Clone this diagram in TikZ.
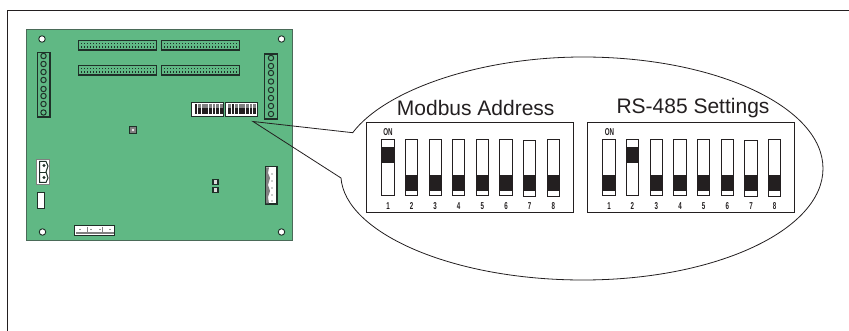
\documentclass[tikz,border=0pt]{standalone}
\usepackage{fontspec}
\setmainfont{Liberation Sans}
\definecolor{boardgreen}{HTML}{60B884}
\definecolor{boardedge}{HTML}{4A6A58}
\definecolor{partdark}{HTML}{1F3028}
\definecolor{inkblack}{HTML}{231F20}
\tikzset{
  part/.style={draw=partdark, line width=1.1pt, inner sep=0pt, outer sep=0pt, minimum width=#1},
  hole/.style={circle, draw=partdark, fill=white, line width=0.9pt, inner sep=0pt, minimum size=6.5pt},
  pin/.style={circle, draw=partdark, line width=1pt, fill=boardgreen, inner sep=0pt, minimum size=5.4pt},
  swbox/.style={draw=inkblack, fill=white, line width=0.9pt, inner sep=0pt, outer sep=0pt, minimum width=12.5pt, minimum height=56.7pt},
  slider/.style={fill=inkblack, inner sep=0pt, outer sep=0pt, minimum width=12.5pt, minimum height=16pt},
  panel/.style={draw=inkblack, fill=white, line width=0.9pt, inner sep=0pt, outer sep=0pt, minimum width=207.2pt, minimum height=90.4pt},
  tiny/.style={text=inkblack, font=\fontsize{10}{11}\selectfont\bfseries, xscale=0.62, inner sep=0pt},
  title/.style={text=inkblack, font=\fontsize{21}{22}\selectfont, inner sep=0pt}
}
\begin{document}
\begin{tikzpicture}[x=1pt, y=-1pt]
    \useasboundingbox (0,0) rectangle (849,331);
    % frame
    \coordinate (fa) at (7.5,331);
    \coordinate (fb) at (7.5,10.5);
    \coordinate (fc) at (849,10.5);
    \draw[inkblack, line width=1.5pt] (fa) -- (fb) -- (fc);

    % board
    \node[draw=boardedge, fill=boardgreen, line width=1pt, inner sep=0pt, minimum width=266pt, minimum height=211.5pt] (board) at (159,135.25) {};
    \node[hole] (ha) at (42,39) {};
    \node[hole] (hb) at (281.5,39) {};
    \node[hole] (hc) at (42.5,232) {};
    \node[hole] (hd) at (281.5,232) {};

    % ribbon headers
    \foreach \name/\hx/\hy in {ra/117.5/45.25, rb/200.25/45.25, rc/117.5/70.25, rd/200.25/70.25}{
      \node[part=78pt, minimum height=9.5pt] (\name) at (\hx,\hy) {};
      \foreach \k in {-12,...,12}{
        \fill[partdark] (\hx+\k*3-0.7,\hy-2.5) rectangle +(1.4,1.6);
        \fill[partdark] (\hx+\k*3-0.7,\hy+0.9) rectangle +(1.4,1.6);
      }
    }

    % terminal blocks
    \node[part=12.5pt, minimum height=64.5pt] (tl) at (43.75,84.75) {};
    \foreach \py in {56,64,72,80,89,96,104,112.5}
      \node[pin] (tl\py) at (43.5,\py) {};
    \node[part=12.5pt, minimum height=65pt] (tr) at (271,86.5) {};
    \foreach \py in {58,66,73,81.5,90,98,106,114}
      \node[pin] (tr\py) at (271,\py) {};

    % small dip switches
    \node[draw=partdark, fill=white, line width=1pt, inner sep=0pt, minimum width=32pt, minimum height=14pt] (da) at (207.5,109.5) {};
    \node[draw=partdark, fill=white, line width=1pt, inner sep=0pt, minimum width=32pt, minimum height=14pt] (db) at (241,109.5) {};
    \foreach \k in {0,...,7}{
      \fill[gray] (194.5+\k*3.6,104.5) rectangle +(2.8,9.5);
      \fill[inkblack] (194.5+\k*3.6,108.5) rectangle +(2.8,5.5);
      \fill[gray] (228+\k*3.6,104.5) rectangle +(2.8,9.5);
      \fill[inkblack] (228+\k*3.6,108.5) rectangle +(2.8,5.5);
    }
    \fill[inkblack] (194.5,104.5) rectangle +(2.8,5);
    \fill[inkblack] (231.6,104.5) rectangle +(2.8,5);

    % small parts
    \node[draw=partdark, fill=gray, line width=1.2pt, inner sep=0pt, minimum size=7pt] (sw) at (133,130) {};
    \node[circle, fill=white!85!gray, inner sep=0pt, minimum size=2.6pt] (swc) at (133,130) {};
    \node[draw=partdark, fill=gray!30, line width=1.6pt, inner sep=0pt, minimum size=5pt] (ja) at (215.5,182) {};
    \node[draw=partdark, fill=gray!30, line width=1.6pt, inner sep=0pt, minimum size=5pt] (jb) at (215.5,190) {};
    \node[draw=partdark, fill=white, line width=1pt, inner sep=0pt, minimum width=7pt, minimum height=16pt] (fuse) at (41,201) {};

    % power connector
    \node[draw=gray, fill=white, line width=1.2pt, inner sep=0pt, minimum width=13pt, minimum height=25pt] (pwr) at (43,172) {};
    \coordinate (pa) at (39.5,161.5);
    \coordinate (pb) at (46,161.5);
    \coordinate (pc) at (48,166);
    \coordinate (pd) at (46,172);
    \coordinate (pe) at (48,178);
    \coordinate (pf) at (46,182.5);
    \coordinate (pg) at (39.5,182.5);
    \draw[partdark, line width=1pt] (pa) -- (pb) -- (pc) -- (pd) -- (pe) -- (pf) -- (pg) -- cycle;
    \draw[partdark] (pg |- pd) -- (pd);
    \node[circle, fill=partdark, inner sep=0pt, minimum size=3.4pt] (pwa) at (44,165.5) {};
    \node[circle, fill=partdark, inner sep=0pt, minimum size=3.4pt] (pwb) at (44,177.5) {};

    % bottom connector
    \node[draw=partdark, fill=white, line width=1.1pt, inner sep=0pt, minimum width=40pt, minimum height=9.5pt] (bc) at (94.5,230.5) {};
    \fill[gray] (75.5,232.5) rectangle (113.5,234.5);
    \foreach \bx in {87,102.5}
      \draw[gray] (\bx,227) -- (\bx,234.5);
    \foreach \bx in {80,91,100,110}
      \fill[partdark] (\bx,229.5) circle (0.6);

    % right connector
    \node[draw=partdark, fill=white, line width=1.3pt, inner sep=0pt, minimum width=11.5pt, minimum height=37.5pt] (rc) at (271.25,185.25) {};
    \fill[gray] (266.2,167.5) -- (269,167.5) -- (268,173) -- (270,178) -- (268,185) -- (270,191) -- (268,197) -- (269,203.5) -- (266.2,203.5) -- cycle;
    \foreach \ry in {174,181,188,195,201}
      \fill[partdark] (272,\ry) circle (0.6);

    % callout
    \coordinate (tip) at (253,121.5);
    \coordinate (ua) at (352.7,132.7);
    \coordinate (la) at (341,178);
    \draw[inkblack, line width=0.8pt] (tip) -- (ua)
      .. controls (385,90) and (480,57) .. (583,57)
      .. controls (715.6,57) and (823,106.9) .. (823,168.5)
      .. controls (823,230.1) and (715.6,280) .. (583,280)
      .. controls (450.4,280) and (345,232) .. (la) -- cycle;

    \node[title] (tma) at (475.7,108) {Modbus Address};
    \node[title] (tmb) at (693,108) {RS-485 Settings};
    \node[panel] (pma) at (469.7,167.5) {};
    \node[panel] (pmb) at (690.8,167.5) {};

    % switches
    \foreach \i/\sx/\cy/\up in {1/388/167.6/1, 2/411.6/167.6/0, 3/435.2/167.6/0, 4/458.6/167.6/0, 5/482.3/167.6/0, 6/506/167.6/0, 7/529.6/168.6/0, 8/553.3/167.8/0}{
      \node[swbox] (ma\i) at (\sx,\cy) {};
      \ifnum\up=1
        \node[slider] (sa\i) at (\sx,154.7) {};
      \else
        \node[slider] (sa\i) at (\sx,182.7) {};
      \fi
      \node[tiny] (na\i) at (\sx,205.7) {\i};
    }
    \foreach \i/\sx/\cy/\up in {1/609/167.6/0, 2/632.3/167.6/1, 3/656.3/167.6/0, 4/680/167.6/0, 5/703.6/167.6/0, 6/727.3/167.6/0, 7/751/168.6/0, 8/774.6/167.8/0}{
      \node[swbox] (mb\i) at (\sx,\cy) {};
      \ifnum\up=1
        \node[slider] (sb\i) at (\sx,154.7) {};
      \else
        \node[slider] (sb\i) at (\sx,182.7) {};
      \fi
      \node[tiny] (nb\i) at (\sx,205.7) {\i};
    }
    \node[tiny] (ona) at (388,132) {ON};
    \node[tiny] (onb) at (609.5,132) {ON};
\end{tikzpicture}
\end{document}
